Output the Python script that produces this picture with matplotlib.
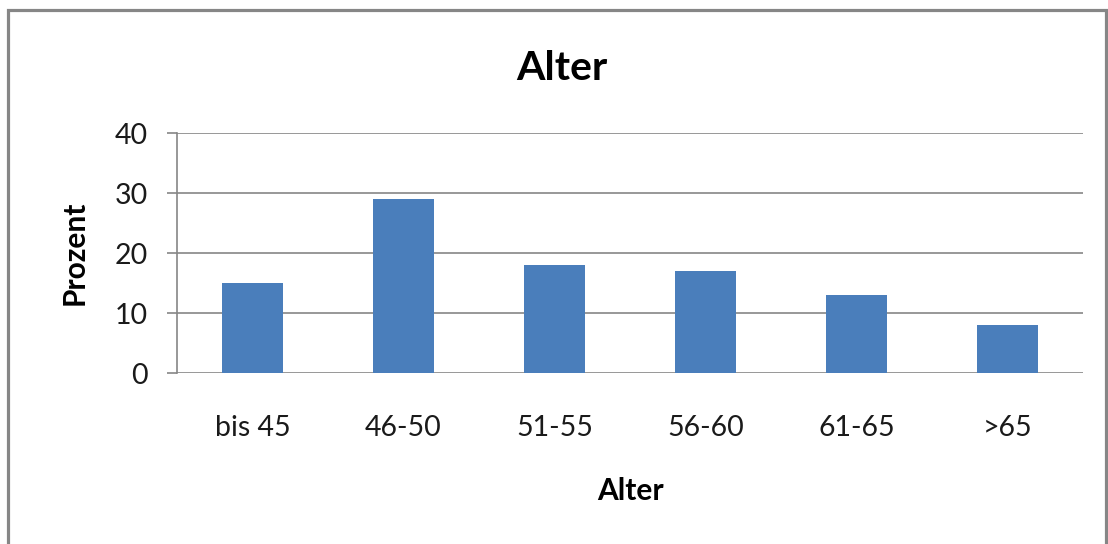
import matplotlib
matplotlib.use("Agg")
import matplotlib.pyplot as plt
from matplotlib.patches import Rectangle

categories = ["bis 45", "46-50", "51-55", "56-60", "61-65", ">65"]
percent = [15, 29, 18, 17, 13, 8]
y_ticks = [0, 10, 20, 30, 40]

plt.rcParams["font.family"] = ["Lato", "DejaVu Sans"]

W, H = 1108, 544
fig = plt.figure(figsize=(W / 100, H / 100), dpi=100)
fig.patch.set_facecolor("white")

# outer chart frame
fig.patches.append(Rectangle((8 / W, -0.05), (1106 - 8) / W, 1.05 - 10 / H,
                             transform=fig.transFigure, fill=False,
                             edgecolor="#868686", linewidth=2.3, zorder=0))

ax = fig.add_axes([177 / W, 1 - 373 / H, (1083 - 177) / W, (373 - 133) / H])
x = list(range(len(categories)))
ax.bar(x, percent, width=0.4, color="#4A7EBB", zorder=3)

ax.set_xlim(-0.5, len(categories) - 0.5)
ax.set_ylim(0, 40)
ax.set_yticks(y_ticks)
ax.set_xticks(x)
ax.set_xticklabels(categories)

for v in y_ticks:
    ax.axhline(v, color="#868686", linewidth=1.2, zorder=1)

for s in ["top", "right", "bottom"]:
    ax.spines[s].set_visible(False)
ax.spines["left"].set_color("#868686")
ax.spines["left"].set_linewidth(1.2)

ax.tick_params(axis="y", length=7, width=1.2, color="#868686", pad=14,
               labelsize=20.5, labelcolor="#1a1a1a")
ax.tick_params(axis="x", length=0, pad=30, labelsize=20.5, labelcolor="#1a1a1a")

fig.text(562 / W, 1 - 68 / H, "Alter", ha="center", va="center",
         fontsize=29.5, fontweight="bold", color="#000000")
fig.text(630 / W, 1 - 491 / H, "Alter", ha="center", va="center",
         fontsize=21.5, fontweight="bold", color="#000000")
fig.text(75 / W, 1 - 253 / H, "Prozent", ha="center", va="center",
         rotation=90, fontsize=21.5, fontweight="bold", color="#000000")

fig.savefig("out.png", dpi=100)
